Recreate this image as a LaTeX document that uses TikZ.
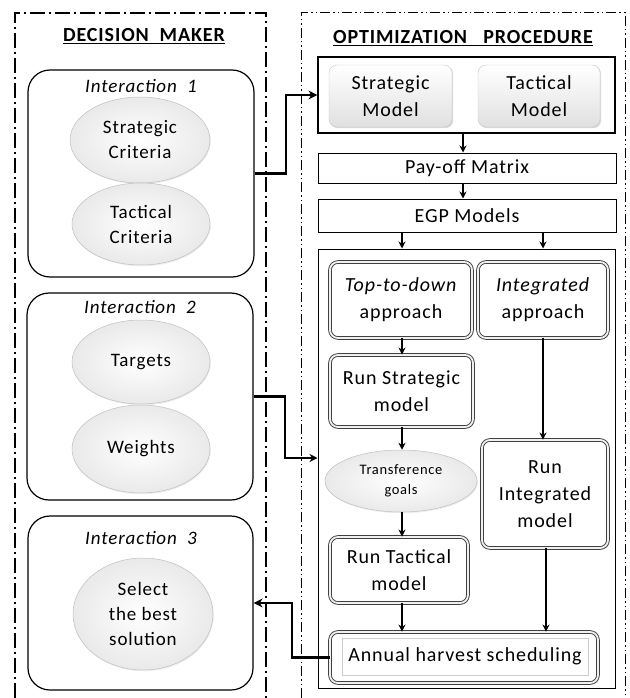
\documentclass[tikz,border=0pt]{standalone}
\usepackage{fontspec}
\setmainfont{Carlito}[LetterSpace=4.5]
\usetikzlibrary{shapes.geometric,arrows.meta,calc,shadows}
\newcommand{\txtA}{\fontsize{20}{27}\selectfont}
\newcommand{\txtB}{\fontsize{19}{25}\selectfont}
\newcommand{\txtS}{\fontsize{14.5}{20}\selectfont}
\begin{document}
\begin{tikzpicture}[x=1pt,y=-1pt,
  frameL/.style={line width=2.2pt, dash pattern=on 15pt off 4pt on 2pt off 4pt},
  frameR/.style={line width=1pt, dash pattern=on 10pt off 3pt on 1.5pt off 3pt on 1.5pt off 3pt},
  interbox/.style={draw, line width=1.2pt, rounded corners=22pt},
  egg/.style={ellipse, draw=gray!50, line width=0.5pt, inner color=white, outer color=gray!17, inner sep=0pt, align=center, font=\txtB,
     drop shadow={shadow xshift=0.8pt, shadow yshift=-1.2pt, opacity=0.15}},
  softbox/.style={draw=gray!45, rounded corners=8pt, top color=white, bottom color=gray!24, inner sep=0pt, align=center, font=\txtA,
     drop shadow={shadow xshift=1.2pt, shadow yshift=-1.2pt, opacity=0.3}},
  bevel/.style={draw=black!75, fill=white, line width=0.9pt, double=gray!12, double distance=1.8pt, rounded corners=8pt, inner sep=0pt, align=center, font=\txtA,
     drop shadow={shadow xshift=1.4pt, shadow yshift=-1.4pt, opacity=0.3}},
  plain/.style={draw, line width=1pt, inner sep=0pt, align=center, font=\txtA},
  arr/.style={line width=1.5pt, -{Stealth[length=7pt,width=7pt]}},
  bigarr/.style={line width=2.5pt, -{Stealth[length=9pt,width=9pt]}},
  title/.style={font=\bfseries\fontsize{20}{24}\selectfont}
]
\useasboundingbox (0,0) rectangle (629,698);

% frames
\draw[frameL] (15,698) -- (15,13) -- (266,13) -- (266,698);
\draw[frameR] (301,698) -- (301,13) -- (625,13) -- (625,698);

\node[title] (tDM) at (144,36) {\underline{DECISION\ \ MAKER}};
\node[title] (tOP) at (463,38) {\underline{OPTIMIZATION\ \ \ PROCEDURE}};

% Decision maker side
\node[interbox, minimum width=226pt, minimum height=207pt] (I1) at (141,173.5) {};
\node[font=\itshape\txtB] (I1t) at (141,86) {Interaction\ \ 1};
\node[egg, minimum width=140pt, minimum height=86pt] (SC) at (140,140) {Strategic\\Criteria};
\node[egg, minimum width=138pt, minimum height=82pt] (TC) at (141,224) {Tactical\\Criteria};

\node[interbox, minimum width=226pt, minimum height=207pt] (I2) at (140,396.5) {};
\node[font=\itshape\txtB] (I2t) at (140,307) {Interaction\ \ 2};
\node[egg, minimum width=138pt, minimum height=84pt] (TA) at (141,362) {Targets};
\node[egg, minimum width=138pt, minimum height=88pt] (WE) at (141,449) {Weights};

\node[interbox, minimum width=225pt, minimum height=174pt] (I3) at (140.5,603) {};
\node[font=\itshape\txtB] (I3t) at (141,538) {Interaction\ \ 3};
\node[egg, minimum width=140pt, minimum height=112pt] (SB) at (143,614) {Select\\the best\\solution};

% Optimization side
\node[draw, line width=1.2pt, minimum width=297pt, minimum height=76pt] (TOP) at (466.5,95) {};
\node[softbox, minimum width=123pt, minimum height=62pt] (SM) at (390.5,96) {Strategic\\Model};
\node[softbox, minimum width=122pt, minimum height=62pt] (TM) at (539,96) {Tactical\\Model};

\node[plain, minimum width=298pt, minimum height=30pt] (PO) at (467,168) {Pay-off Matrix};
\node[plain, minimum width=298pt, minimum height=33pt] (EGP) at (467,215.5) {EGP Models};

\node[draw, line width=1pt, minimum width=297pt, minimum height=439pt] (BIG) at (466.5,468.5) {};
\node[bevel, minimum width=142pt, minimum height=76pt] (TD) at (401,300) {\textit{Top-to-down}\\approach};
\node[bevel, minimum width=130pt, minimum height=76pt] (IA) at (543,300) {\textit{Integrated}\\approach};
\node[bevel, minimum width=143pt, minimum height=72pt] (RS) at (401.5,391) {Run Strategic\\model};
\node[egg, minimum width=152pt, minimum height=62pt, font=\txtS] (TG) at (401,481) {Transference\\goals};
\node[bevel, minimum width=138pt, minimum height=66pt] (RT) at (399,570) {Run Tactical\\model};
\node[bevel, minimum width=126pt, minimum height=108pt] (RI) at (545,494) {Run\\Integrated\\model};
\node[bevel, minimum width=268pt, minimum height=51pt] (AH) at (464,657.5) {};
\node[draw=gray!40, line width=0.6pt, minimum width=246pt, minimum height=37pt, inner sep=0pt, font=\txtA] (AHt) at (465,656.5) {Annual harvest scheduling};

% arrows right side
\draw[arr] (TOP.south -| 463,0) -- (PO.north -| 463,0);
\draw[arr] (PO.south -| 463,0) -- (EGP.north -| 463,0);
\draw[arr] (EGP.south -| 402,0) -- (BIG.north -| 402,0);
\draw[arr] (EGP.south -| 543,0) -- (BIG.north -| 543,0);
\draw[arr] (TD.south -| 402,0) -- (RS.north -| 402,0);
\draw[arr] (RS.south -| 402,0) -- (TG.north -| 402,0);
\draw[arr] (TG.south -| 402,0) -- (RT.north -| 402,0);
\draw[arr] (RT.south -| 402,0) -- (AH.north -| 402,0);
\draw[arr] (IA.south -| 543,0) -- (RI.north -| 543,0);
\draw[arr] (RI.south -| 546,0) -- (AH.north -| 546,0);

% connectors between sides
\draw[bigarr] (I1.east) -- (286,173.5) |- (TOP.west);
\draw[line width=2.2pt, -{Stealth[length=8pt,width=8pt]}] (I2.east) -- (285,396.5) |- ($(BIG.west)+(0,-10.5)$);
\draw[bigarr] (AH.west) -- (292,657.5) |- (I3.east);
\end{tikzpicture}
\end{document}
